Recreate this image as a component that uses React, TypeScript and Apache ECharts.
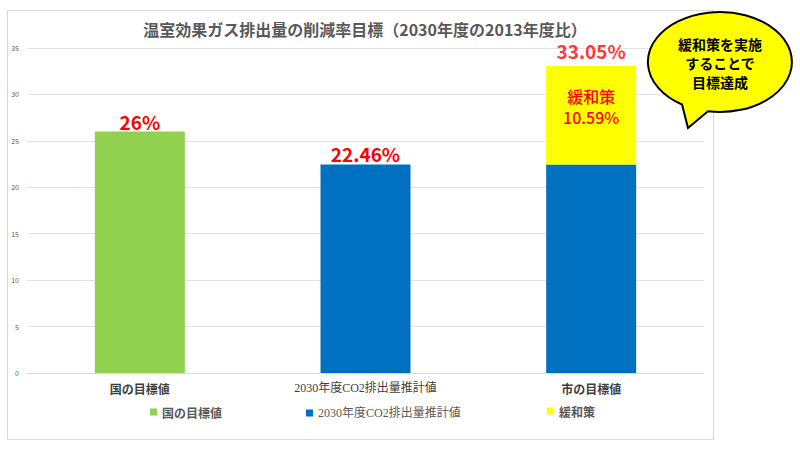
import React, { useEffect, useRef } from 'react';
import * as echarts from 'echarts';

const categories = ['国の目標値', '2030年度CO2排出量推計値', '市の目標値'];
const nationalTarget = [26, null, null];
const co2Estimate = [null, 22.46, 22.46];
const mitigation = [null, null, 10.59];
const cityTotal = [null, null, 33.05];
const yTicks = { min: 0, max: 35, interval: 5 };

const title = '温室効果ガス排出量の削減率目標（2030年度の2013年度比）';
const bubbleLines = ['緩和策を実施', 'することで', '目標達成'];

// speech bubble outline (ellipse + tail)
echarts.graphic.registerShape(
  'bubble',
  echarts.graphic.extendPath('M 688 128 L 682 104.5 A 72 50 0 1 1 708 111.3 Z', {})
);

const JP = '"Noto Sans CJK JP", "Noto Sans", sans-serif';
const SERIF = '"Liberation Serif", "DejaVu Serif", "Noto Sans CJK JP", serif';

const pctLabel = {
  show: true,
  position: 'top',
  distance: 1,
  formatter: (p: any) => `${p.value}%`,
  color: '#ff0000',
  fontSize: 19,
  fontWeight: 'bold',
  fontFamily: JP,
};

const App: React.FC = () => {
  const chartRef = useRef<HTMLDivElement>(null);

  useEffect(() => {
    if (!chartRef.current) return;
    const chart = echarts.init(chartRef.current, null, { renderer: 'svg' });

    const option = {
      animation: false,
      backgroundColor: '#ffffff',
      textStyle: { fontFamily: JP },
      title: {
        text: title,
        left: 360,
        top: 16,
        textAlign: 'center',
        textStyle: { fontSize: 16, fontWeight: 'bold', color: '#595959', fontFamily: JP },
      },
      grid: { left: 27, right: 96, top: 48, bottom: 77 },
      legend: [
        {
          left: 145,
          top: 401,
          icon: 'rect',
          itemWidth: 7,
          itemHeight: 7,
          itemGap: 4,
          data: [categories[0]],
          textStyle: { fontSize: 12, color: '#595959', fontWeight: 'bold', fontFamily: JP },
        },
        {
          left: 301,
          top: 402,
          icon: 'rect',
          itemWidth: 7,
          itemHeight: 7,
          data: ['2030年度CO2排出量推計値'],
          textStyle: { fontSize: 12, color: '#595959', fontFamily: SERIF },
        },
        {
          left: 542,
          top: 400,
          icon: 'rect',
          itemWidth: 7,
          itemHeight: 7,
          data: ['緩和策'],
          textStyle: { fontSize: 12, color: '#595959', fontWeight: 'bold', fontFamily: JP },
        },
      ],
      xAxis: {
        type: 'category',
        data: [
          { value: categories[0], textStyle: { fontFamily: JP, fontWeight: 'bold' } },
          { value: categories[1], textStyle: { fontFamily: SERIF, fontWeight: 'normal' } },
          { value: categories[2], textStyle: { fontFamily: JP, fontWeight: 'bold' } },
        ],
        axisLine: { show: true, lineStyle: { color: '#d9d9d9' } },
        axisTick: { show: false },
        axisLabel: { fontSize: 12, color: '#404040', margin: 9 },
      },
      yAxis: {
        type: 'value',
        ...yTicks,
        axisLine: { show: false },
        axisTick: { show: false },
        axisLabel: { fontSize: 7, color: '#595959', margin: 8 },
        splitLine: { lineStyle: { color: '#e3e3e3' } },
      },
      series: [
        {
          name: categories[0],
          type: 'bar',
          stack: 'total',
          barWidth: 90,
          data: nationalTarget,
          itemStyle: { color: '#92d050' },
          label: pctLabel,
        },
        {
          name: '2030年度CO2排出量推計値',
          type: 'bar',
          stack: 'total',
          barWidth: 90,
          data: co2Estimate.map((v, i) =>
            i === 2 ? { value: v, label: { show: false } } : v
          ),
          itemStyle: { color: '#0070c0' },
          label: pctLabel,
        },
        {
          name: '緩和策',
          type: 'bar',
          stack: 'total',
          barWidth: 90,
          data: mitigation,
          itemStyle: { color: '#ffff00' },
          label: {
            show: true,
            position: 'inside',
            offset: [0, -9],
            formatter: (p: any) => `緩和策\n${p.value}%`,
            color: '#ff0000',
            fontSize: 16,
            lineHeight: 21,
            fontWeight: 500,
            fontFamily: JP,
          },
        },
        {
          name: 'total',
          type: 'scatter',
          symbolSize: 0,
          data: cityTotal,
          label: { ...pctLabel, distance: 6 },
        },
      ],
      graphic: [
        {
          type: 'rect',
          shape: { x: 7.5, y: 10.5, width: 706, height: 429 },
          style: { fill: 'none', stroke: '#d9d9d9', lineWidth: 1 },
          z: -1,
        },
        {
          type: 'bubble',
          x: 0,
          y: 0,
          style: { fill: '#ffff00', stroke: '#000000', lineWidth: 2 },
          z: 10,
        },
        {
          type: 'text',
          x: 720,
          y: 63,
          z: 11,
          style: {
            text: bubbleLines.join('\n'),
            fill: '#000000',
            fontSize: 14,
            fontWeight: 'bold',
            fontFamily: JP,
            lineHeight: 19,
            align: 'center',
            verticalAlign: 'middle',
          },
        },
      ],
    };

    chart.setOption(option);
    return () => chart.dispose();
  }, []);

  return (
    <div
      ref={chartRef}
      style={{ position: 'fixed', left: 0, top: 0, width: 800, height: 450 }}
    />
  );
};

export default App;
